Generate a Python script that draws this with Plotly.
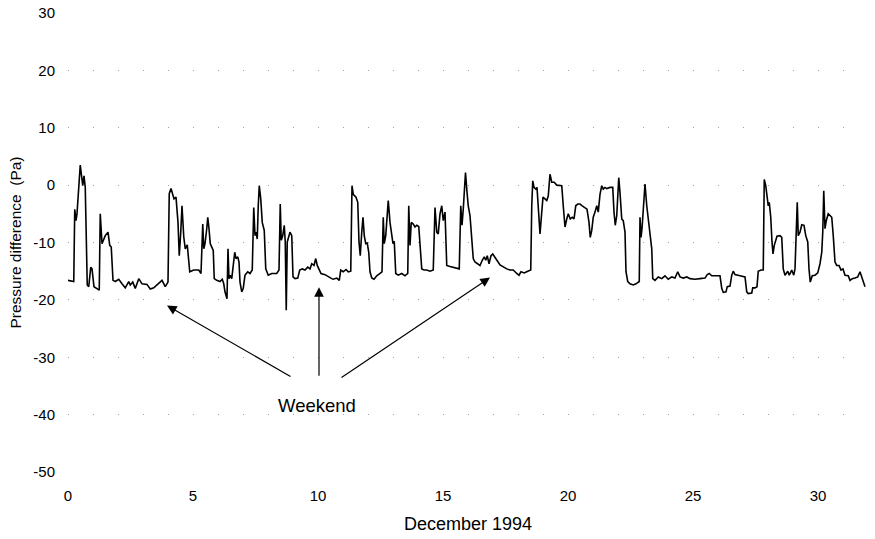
import plotly.graph_objects as go

# Day of December 1994 (0 = start of 1 Dec)
days = [
    0.0, 0.23, 0.27, 0.32, 0.36, 0.43, 0.49, 0.59, 0.64, 0.69, 0.77, 0.83, 0.91, 0.96, 1.04, 1.25,
    1.29, 1.36, 1.43, 1.49, 1.6, 1.67, 1.73, 1.8, 1.89, 2.03, 2.16, 2.29, 2.43, 2.49, 2.59, 2.69,
    2.83, 2.96, 3.16, 3.29, 3.43, 3.63, 3.76, 3.89, 4.0, 4.05, 4.12, 4.24, 4.32, 4.4, 4.45, 4.51,
    4.56, 4.63, 4.69, 4.77, 4.87, 5.03, 5.23, 5.32,
    5.35, 5.39, 5.43, 5.48, 5.55, 5.59, 5.64, 5.69, 5.75, 5.81, 5.85, 5.95, 6.08, 6.17, 6.23, 6.28,
    6.36, 6.4, 6.44, 6.49, 6.55, 6.61, 6.67, 6.72, 6.79, 6.84, 6.88, 6.95, 7.01, 7.08, 7.19, 7.28,
    7.37, 7.43, 7.48, 7.52, 7.57, 7.61, 7.65, 7.71, 7.77, 7.85, 7.91, 8.01, 8.15, 8.35, 8.44, 8.49,
    8.53, 8.59, 8.65, 8.69, 8.73, 8.77, 8.83, 8.88, 8.95, 9.0, 9.08, 9.19, 9.27, 9.37, 9.48, 9.59,
    9.68, 9.75, 9.84, 9.91, 9.97, 10.04, 10.12, 10.28, 10.41,
    10.55, 10.61, 10.75, 10.85, 10.91, 11.01, 11.12, 11.21, 11.31, 11.36, 11.41, 11.52, 11.59, 11.64,
    11.69, 11.75, 11.8, 11.85, 11.91, 11.97, 12.03, 12.08, 12.15, 12.24, 12.35, 12.48, 12.56, 12.61,
    12.65, 12.71, 12.76, 12.81, 12.88, 12.95, 13.0, 13.05, 13.11, 13.21, 13.35, 13.48, 13.59, 13.63,
    13.68, 13.73, 13.81, 13.88, 13.95, 14.03, 14.09, 14.15, 14.24, 14.35, 14.48, 14.61, 14.68, 14.75,
    14.81, 14.88, 14.95, 15.01, 15.08, 15.15, 15.28, 15.44, 15.65, 15.71, 15.76, 15.81, 15.9,
    15.95, 16.01, 16.08, 16.15, 16.21, 16.28, 16.39, 16.48, 16.57, 16.65, 16.71, 16.77, 16.84, 16.92,
    16.99, 17.08, 17.19, 17.28, 17.41, 17.55, 17.68, 17.81, 17.95, 18.04, 18.12, 18.25, 18.39, 18.51,
    18.55, 18.59, 18.64, 18.71, 18.76, 18.81, 18.88, 18.95, 19.0, 19.08, 19.15, 19.21, 19.28, 19.35,
    19.45, 19.55, 19.64, 19.75, 19.81, 19.88, 19.95, 20.01, 20.09, 20.17, 20.24, 20.31, 20.39, 20.48,
    20.57, 20.68, 20.76, 20.84, 20.89, 20.95, 21.01, 21.08, 21.15, 21.21, 21.28, 21.35, 21.41,
    21.48, 21.55, 21.68, 21.79,
    21.84, 21.89, 21.95, 21.99, 22.03, 22.08, 22.15, 22.21, 22.28, 22.32, 22.39, 22.48, 22.61, 22.72,
    22.85, 22.88, 22.92, 22.96, 23.01, 23.08, 23.15, 23.21, 23.28, 23.35, 23.39, 23.48, 23.61, 23.75,
    23.88, 24.01, 24.15, 24.28, 24.39, 24.48, 24.61, 24.75, 24.88, 25.08, 25.28, 25.48, 25.57, 25.65,
    25.75, 25.95, 26.08, 26.15, 26.21, 26.32, 26.37, 26.48, 26.55, 26.61, 26.68,
    26.88, 27.08, 27.15, 27.21, 27.35, 27.39, 27.48, 27.56, 27.61, 27.72, 27.81, 27.85, 27.91, 27.96,
    28.01, 28.05, 28.11, 28.16, 28.2, 28.25, 28.31, 28.36, 28.48, 28.55, 28.61, 28.68, 28.79, 28.85,
    28.95, 29.03, 29.08, 29.13, 29.17, 29.21, 29.28, 29.35, 29.44, 29.51, 29.59, 29.64, 29.69, 29.77,
    29.88, 29.99, 30.08, 30.15, 30.19, 30.23, 30.28, 30.33, 30.41, 30.48, 30.55, 30.61, 30.68, 30.75,
    30.84, 30.92, 31.0, 31.08, 31.21, 31.28, 31.37, 31.48, 31.59, 31.68, 31.75, 31.81, 31.88,
]

# Pressure difference (Pa)
pressure = [
    -16.6, -16.8, -4.2, -6.2, -5.0, 0.5, 3.5, -0.1, 1.6, -0.4, -17.4, -17.7, -14.3, -14.6, -17.7, -18.3,
    -5.0, -10.2, -9.4, -8.8, -8.2, -10.5, -10.8, -16.6, -16.8, -16.4, -17.2, -17.9, -16.8, -17.4, -16.9, -18.0,
    -16.3, -17.2, -17.3, -18.1, -17.9, -17.2, -16.6, -17.7, -16.9, -1.5, -0.6, -2.4, -2.1, -6.5, -12.3, -8.2,
    -3.6, -9.0, -11.1, -10.4, -15.1, -14.8, -14.8, -15.4,
    -11.7, -6.8, -11.1, -10.2, -7.6, -5.6, -7.6, -10.2, -10.8, -11.4, -16.3, -16.6, -16.8, -16.4, -17.2, -18.6,
    -19.8, -11.1, -16.3, -15.7, -16.3, -13.4, -11.7, -12.8, -12.5, -13.4, -16.9, -18.6, -18.0, -15.7, -15.1, -15.4,
    -14.8, -3.9, -8.8, -8.2, -9.4, -3.6, -0.1, -2.4, -6.5, -7.9, -14.6, -15.7, -15.4, -15.4, -14.8, -3.3,
    -9.6, -8.8, -7.0, -9.9, -21.8, -9.9, -9.1, -8.2, -8.8, -16.0, -16.3, -16.2, -14.8, -14.6, -14.8, -14.3,
    -14.6, -13.7, -14.0, -12.8, -14.0, -14.6, -15.4, -15.6, -16.0,
    -16.3, -16.4, -16.2, -16.6, -14.8, -15.1, -14.7, -15.1, -15.0, -0.1, -1.6, -2.1, -3.0, -9.9,
    -12.3, -8.2, -5.6, -8.8, -10.2, -10.1, -11.7, -15.1, -16.2, -16.4, -15.8, -15.4, -15.1, -5.6,
    -10.2, -8.8, -5.3, -2.7, -6.5, -8.8, -10.2, -9.8, -15.4, -15.7, -15.4, -15.8, -15.4, -3.6,
    -10.5, -6.5, -6.8, -7.3, -7.0, -7.2, -10.5, -14.6, -14.8, -14.8, -15.0, -14.8, -3.9, -8.2,
    -8.5, -5.0, -3.6, -6.2, -4.7, -14.0, -14.2, -14.4, -14.6, -3.6, -7.0, -4.2, 2.2,
    -0.7, -3.6, -5.3, -9.9, -12.8, -13.4, -13.7, -14.0, -13.1, -12.5, -13.1, -12.3, -13.7, -12.3,
    -12.0, -12.5, -13.3, -13.9, -14.3, -14.6, -14.8, -14.8, -15.4, -15.7, -15.1, -15.3, -15.0, -14.8,
    -3.6, 0.75, -0.4, -0.7, -0.4, -3.6, -8.5, -4.7, -2.1, -2.4, -2.7, -1.9, 1.9, 0.5,
    0.5, 0.0, -0.1, -0.1, -3.6, -7.3, -5.9, -5.0, -5.9, -5.6, -5.9, -3.6, -3.3, -3.3,
    -3.6, -3.9, -4.2, -6.5, -9.1, -7.9, -5.6, -4.7, -3.6, -4.7, -1.6, -0.1, -0.7,
    -0.4, -0.6, -0.4, -0.4,
    -4.7, -7.0, -5.3, -1.9, 1.3, -1.3, -5.9, -6.2, -8.2, -15.1, -16.8, -17.2, -17.4, -17.2,
    -16.8, -5.6, -9.1, -7.6, -3.3, 0.2, -3.6, -6.2, -8.8, -11.1, -16.3, -16.6, -16.0, -16.3,
    -15.8, -16.4, -16.0, -16.2, -15.1, -16.0, -16.2, -16.0, -16.3, -16.4, -16.3, -16.2, -15.6, -15.4,
    -15.8, -15.8, -15.8, -18.0, -18.7, -18.6, -17.7, -17.6, -15.7, -15.0, -15.6,
    -15.8, -16.0, -18.6, -18.9, -18.8, -17.9, -17.9, -17.7, -15.0, -14.8, -14.8, 1.0, -0.1, -1.9,
    -3.6, -3.0, -5.6, -9.9, -12.0, -10.5, -9.4, -8.9, -8.8, -9.1, -14.6, -15.7, -15.0, -15.7,
    -14.8, -15.7, -14.6, -8.8, -3.0, -8.8, -8.2, -6.9, -7.0, -8.8, -9.9, -14.6, -16.9, -15.8,
    -15.7, -15.3, -13.7, -11.7, -8.2, -1.0, -7.6, -6.2, -5.0, -5.3, -5.6, -8.8, -13.4, -14.0,
    -14.0, -14.8, -14.6, -15.7, -15.8, -16.6, -16.3, -16.2, -16.0, -15.1, -16.0, -16.6, -17.7,
]

x_tick_vals = [0, 5, 10, 15, 20, 25, 30]
x_tick_text = ["0", "5", "10", "15", "20", "25", "30"]
y_tick_vals = [-50, -40, -30, -20, -10, 0, 10, 20, 30]
y_tick_text = ["-50", "-40", "-30", "-20", "-10", "0", "10", "20", "30"]

x_title = "December 1994"
y_title = "Pressure difference \u00a0(Pa)"
label_text = "Weekend"
label_pos = (9.96, -38.4)
# (arrow tip x, tip y, tail x, tail y)
arrows = [
    (3.96, -21.0, 8.96, -33.5),
    (10.04, -17.8, 10.04, -33.5),
    (16.88, -16.1, 10.88, -33.7),
]

fig = go.Figure()
fig.add_trace(go.Scatter(
    x=days, y=pressure, mode="lines",
    line=dict(color="black", width=1.6),
    hoverinfo="skip",
))

for tx, ty, sx, sy in arrows:
    fig.add_annotation(
        x=tx, y=ty, ax=sx, ay=sy, xref="x", yref="y", axref="x", ayref="y",
        text="", showarrow=True, arrowhead=2, arrowsize=1.6, arrowwidth=1.2,
        arrowcolor="black",
    )
fig.add_annotation(
    x=label_pos[0], y=label_pos[1], xref="x", yref="y", text=label_text,
    showarrow=False, font=dict(size=18.5, color="black"),
)

fig.update_layout(
    width=875, height=539,
    margin=dict(l=68, r=7, t=13, b=67),
    plot_bgcolor="white", paper_bgcolor="white",
    font=dict(family="Liberation Sans, Arial, sans-serif", size=15, color="black"),
    showlegend=False,
)
fig.update_xaxes(
    range=[0, 32], tickmode="array", tickvals=x_tick_vals, ticktext=x_tick_text,
    showgrid=False, zeroline=False, showline=False, ticks="",
    ticklabelstandoff=13, automargin=False, ticklabeloverflow="allow",
    title=dict(text=x_title, standoff=14, font=dict(size=18)),
)
fig.update_yaxes(
    range=[-50, 30], tickmode="array", tickvals=y_tick_vals, ticktext=y_tick_text,
    showgrid=True, gridcolor="#a0a0a0", gridwidth=1, griddash="1px,24px",
    zeroline=False, showline=False, ticks="",
    ticklabelstandoff=12, automargin=False, ticklabeloverflow="allow",
    title=dict(text=y_title, standoff=7, font=dict(size=15.5)),
)

# remove the default 8px page margin so the figure fills the window exactly
fig.write_html(
    "out.html",
    config={"displayModeBar": False, "staticPlot": True},
    post_script="document.body.style.margin='0px';",
)
